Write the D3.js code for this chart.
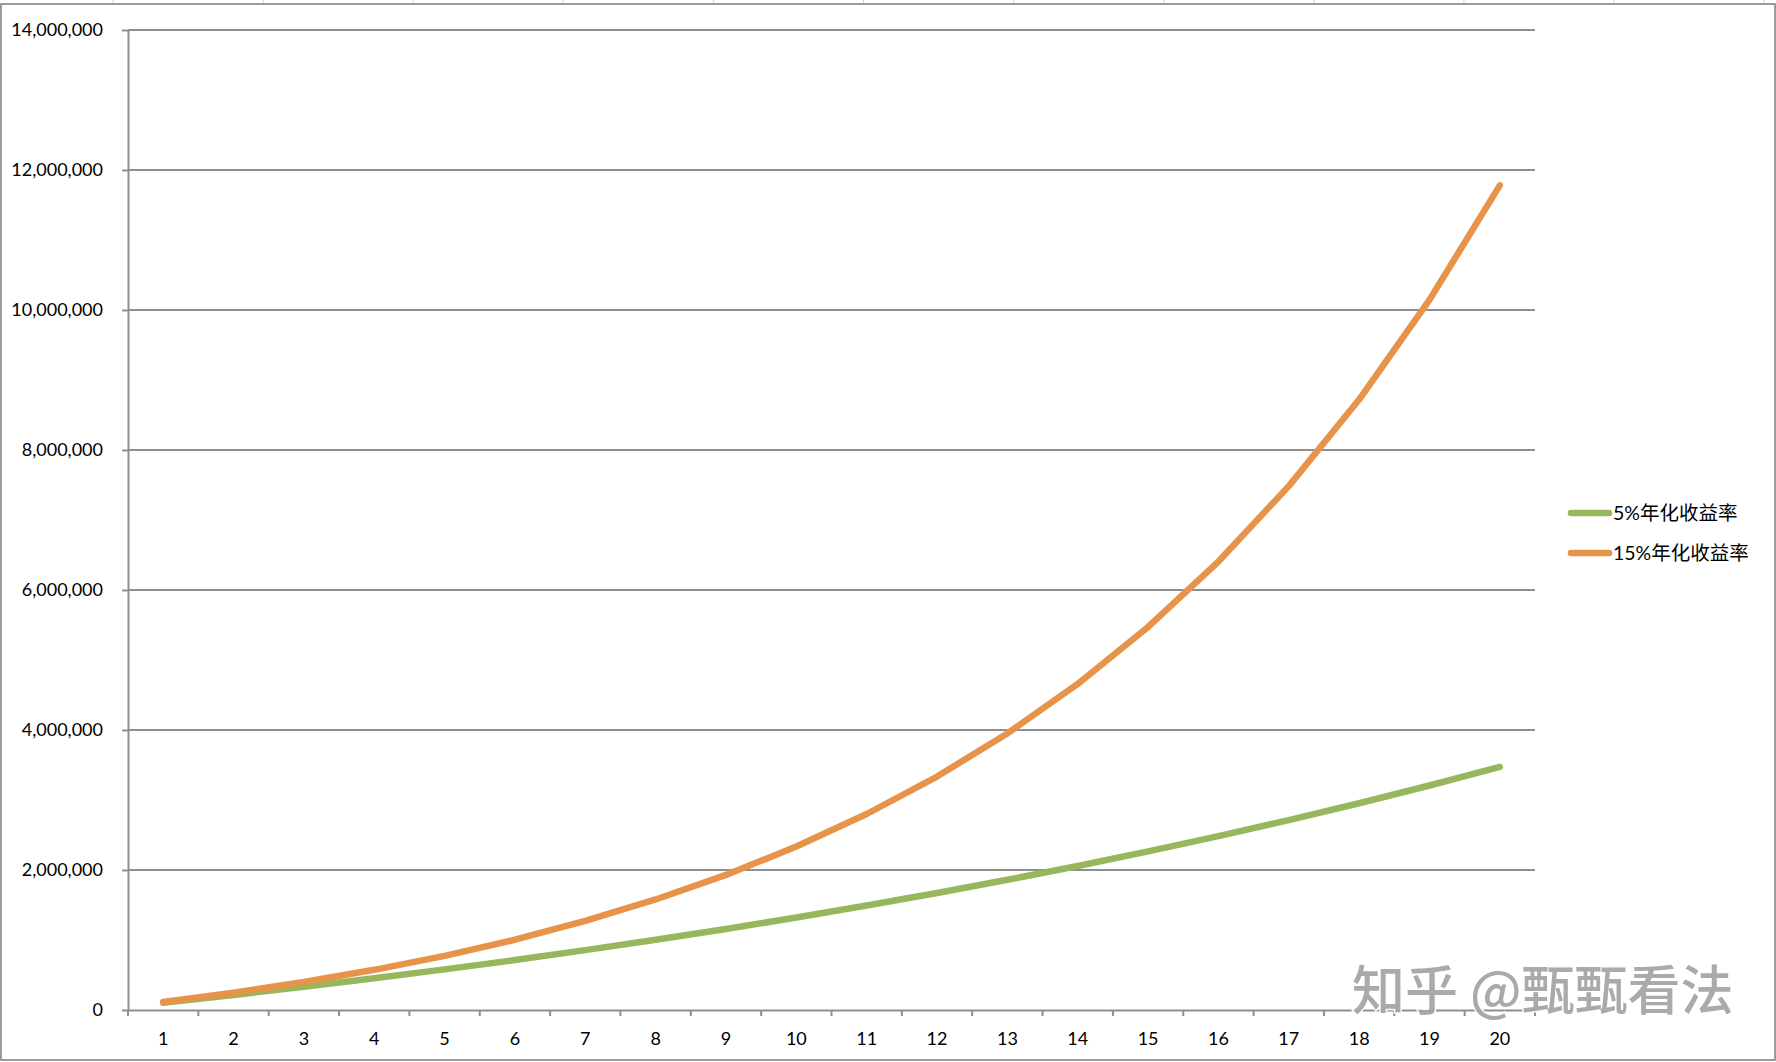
<!DOCTYPE html>
<html><head><meta charset="utf-8">
<script src="https://cdn.jsdelivr.net/npm/d3@7"></script>
<style>html,body{margin:0;padding:0;background:#fff;overflow:hidden}</style>
</head><body>
<svg id="chart" width="1776" height="1062"></svg>
<script>
// ---- data ----
const categories = ["1","2","3","4","5","6","7","8","9","10","11","12","13","14","15","16","17","18","19","20"];
const seriesNames = ["5%年化收益率", "15%年化收益率"];
const values5 = [105000, 215000, 331000, 453000, 580000, 714000, 855000, 1003000, 1158000, 1321000,
                 1492000, 1671000, 1860000, 2058000, 2266000, 2484000, 2713000, 2954000, 3207000, 3472000];
const values15 = [115000, 247000, 399000, 574000, 774000, 1004000, 1273000, 1579000, 1930000, 2335000,
                  2800000, 3335000, 3951000, 4658000, 5472000, 6407000, 7484000, 8721000, 10144000, 11781000];
const yTickValues = [0, 2000000, 4000000, 6000000, 8000000, 10000000, 12000000, 14000000];
const watermarkText = "知乎 @甄甄看法";

// ---- styling ----
const colors = ["#97B75C", "#E7934A"];
const gridColor = "#8f8f8f";
const font = "Lato, 'Noto Sans CJK SC', sans-serif";

const svg = d3.select("#chart");
svg.append("rect").attr("width", 1776).attr("height", 1062).attr("fill", "#fff");

// spreadsheet column lines peeking above the chart
svg.append("g").selectAll("line").data(d3.range(12)).join("line")
  .attr("x1", k => 113 + 150.1 * k).attr("x2", k => 113 + 150.1 * k)
  .attr("y1", 0).attr("y2", 4)
  .attr("stroke", "#cfcfcf").attr("stroke-width", 1);

// chart frame
svg.append("rect").attr("x", 1).attr("y", 4).attr("width", 1774).attr("height", 1056)
  .attr("fill", "none").attr("stroke", "#9c9c9c").attr("stroke-width", 2);

const x = d3.scaleBand().domain(categories).range([128, 1535]);
const y = d3.scaleLinear().domain([0, 14000000]).range([1010, 30]);

// gridlines
svg.append("g").selectAll("line").data(yTickValues.filter(d => d > 0)).join("line")
  .attr("x1", 128).attr("x2", 1535)
  .attr("y1", d => y(d)).attr("y2", d => y(d))
  .attr("stroke", gridColor).attr("stroke-width", 2);

// y axis
const gy = svg.append("g").attr("transform", "translate(128,0)")
  .call(d3.axisLeft(y).tickValues(yTickValues).tickFormat(d3.format(","))
        .tickSizeInner(6).tickSizeOuter(0).tickPadding(19));
gy.select(".domain").attr("stroke", gridColor).attr("stroke-width", 2);
gy.selectAll(".tick line").attr("stroke", gridColor).attr("stroke-width", 2);
gy.selectAll(".tick text").attr("font-family", font).attr("font-size", 18).attr("fill", "#000");

// x axis (labels at band centers)
const gx = svg.append("g").attr("transform", "translate(0,1010)")
  .call(d3.axisBottom(x).tickSizeInner(0).tickSizeOuter(0).tickPadding(22));
gx.select(".domain").attr("stroke", gridColor).attr("stroke-width", 2);
gx.selectAll(".tick line").remove();
gx.selectAll(".tick text").attr("font-family", font).attr("font-size", 18).attr("fill", "#000");
// tick marks at band boundaries
const bounds = categories.map(c => x(c)).concat([x.range()[1]]);
gx.append("g").selectAll("line").data(bounds).join("line")
  .attr("x1", d => d).attr("x2", d => d).attr("y1", 0).attr("y2", 6)
  .attr("stroke", gridColor).attr("stroke-width", 2);

// lines
const line = d3.line()
  .x((d, i) => x(categories[i]) + x.bandwidth() / 2)
  .y(d => y(d));
[values5, values15].forEach((vals, s) => {
  svg.append("path").datum(vals)
    .attr("d", line).attr("fill", "none")
    .attr("stroke", colors[s]).attr("stroke-width", 6.5)
    .attr("stroke-linecap", "round").attr("stroke-linejoin", "round");
});

// legend
const lg = svg.append("g");
seriesNames.forEach((name, s) => {
  const ly = 513 + s * 40;
  lg.append("line").attr("x1", 1571).attr("x2", 1609).attr("y1", ly).attr("y2", ly)
    .attr("stroke", colors[s]).attr("stroke-width", 6.5).attr("stroke-linecap", "round");
  lg.append("text").attr("x", 1613).attr("y", ly).attr("dy", "0.37em")
    .attr("font-family", font).attr("font-size", 19.5).attr("fill", "#000").text(name);
});

// watermark
svg.append("text").attr("x", 1352).attr("y", 1010)
  .attr("font-family", "'Noto Sans CJK SC', sans-serif").attr("font-size", 53)
  .attr("font-weight", 500)
  .attr("fill", "#a6a6a6").attr("stroke", "#fff").attr("stroke-width", 3)
  .attr("paint-order", "stroke").attr("opacity", 0.95)
  .text(watermarkText);
</script>
</body></html>
